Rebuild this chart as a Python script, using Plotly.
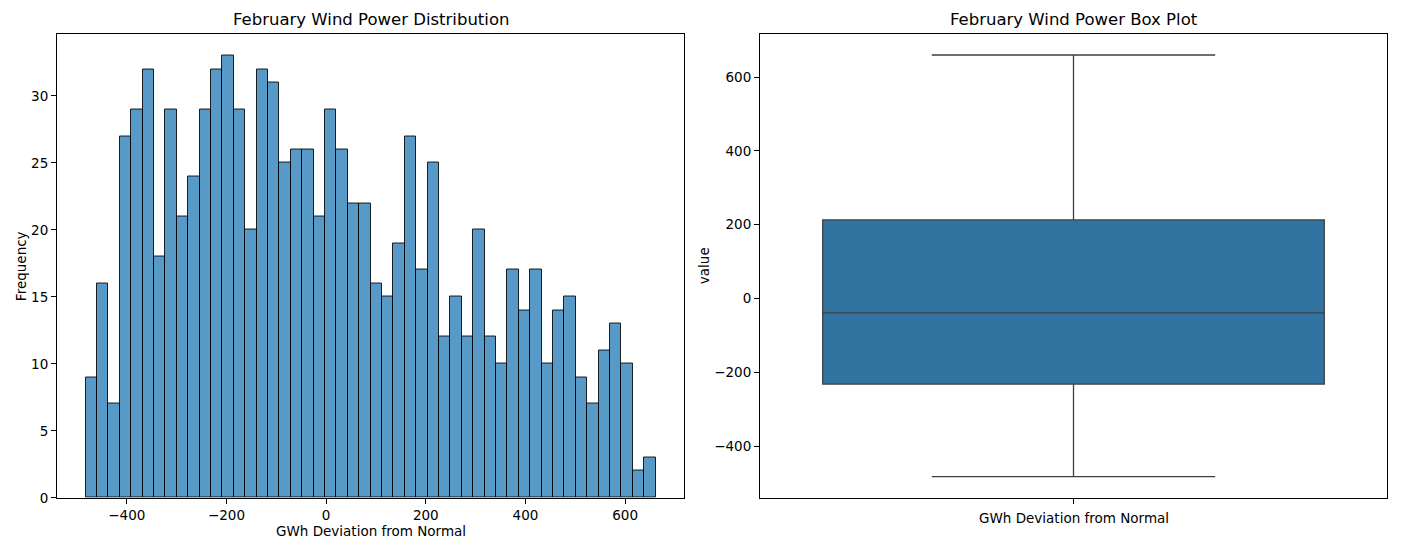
import plotly.graph_objects as go

# ---- data ----
bin_start = -483.0
bin_width = 22.88
counts = [9, 16, 7, 27, 29, 32, 18, 29, 21, 24,
          29, 32, 33, 29, 20, 32, 31, 25, 26, 26,
          21, 29, 26, 22, 22, 16, 15, 19, 27, 17,
          25, 12, 15, 12, 20, 12, 10, 17, 14, 17,
          10, 14, 15, 9, 7, 11, 13, 10, 2, 3]
box_category = ["GWh Deviation from Normal"]
box_q1 = [-232]
box_median = [-39]
box_q3 = [213]
box_lower = [-483]
box_upper = [660]

hist_xticks = [-400, -200, 0, 200, 400, 600]
hist_yticks = [0, 5, 10, 15, 20, 25, 30]
box_yticks = [-400, -200, 0, 200, 400, 600]
minus_labels = ["\u2212400", "\u2212200", "0", "200", "400", "600"]

centers = [bin_start + bin_width * (i + 0.5) for i in range(len(counts))]

FONT = "DejaVu Sans"
W, H = 1401, 560
fig = go.Figure()

fig.add_trace(go.Bar(
    x=centers, y=counts, width=bin_width,
    marker=dict(color="rgba(31,119,180,0.75)",
                line=dict(color="rgba(0,0,0,0.85)", width=1)),
    xaxis="x", yaxis="y", showlegend=False,
))

fig.add_trace(go.Box(
    x=[0], q1=box_q1, median=box_median, q3=box_q3,
    lowerfence=box_lower, upperfence=box_upper,
    width=0.8, whiskerwidth=0.565,
    fillcolor="#3274a1", line=dict(color="#3f3f3f", width=1.3),
    xaxis="x2", yaxis="y2", showlegend=False, boxpoints=False,
))

axis_common = dict(showline=True, mirror=True, linecolor="black", linewidth=1,
                   ticks="outside", ticklen=5, tickwidth=1, tickcolor="black",
                   showgrid=False, zeroline=False,
                   tickfont=dict(family=FONT, size=13.5, color="black"))

fig.update_layout(
    width=W, height=H, autosize=False,
    margin=dict(l=0, r=0, t=0, b=0, pad=0),
    plot_bgcolor="white", paper_bgcolor="white",
    bargap=0,
    xaxis=dict(domain=[57/W, 684/W], range=[-540.2, 718.2],
               tickvals=hist_xticks, ticktext=minus_labels,
               anchor="y", **axis_common),
    yaxis=dict(domain=[1-505/H, 1-34/H], range=[0, 34.65],
               tickvals=hist_yticks, anchor="x", **axis_common),
    xaxis2=dict(domain=[760/W, 1387/W], range=[-0.5, 0.5],
                tickvals=[0], ticktext=[""], anchor="y2", **axis_common),
    yaxis2=dict(domain=[1-505/H, 1-34/H], range=[-540.2, 718.2],
                tickvals=box_yticks, ticktext=minus_labels,
                anchor="x2", **axis_common),
)

def ann(text, x, y, size, angle=0):
    fig.add_annotation(text=text, x=x/W, y=1-y/H, xref="paper", yref="paper",
                       showarrow=False, xanchor="center", yanchor="middle",
                       textangle=angle, font=dict(family=FONT, size=size, color="black"))

ann("February Wind Power Distribution", 370.5, 20, 16.5)
ann("February Wind Power Box Plot", 1073.5, 20, 16.5)
ann("GWh Deviation from Normal", 370.5, 539, 13.5)
ann(box_category[0], 1073.5, 526, 13.5)
ann("Frequency", 21, 270, 13.5, -90)
ann("value", 704, 270, 13.5, -90)

fig.write_html("out.html")
